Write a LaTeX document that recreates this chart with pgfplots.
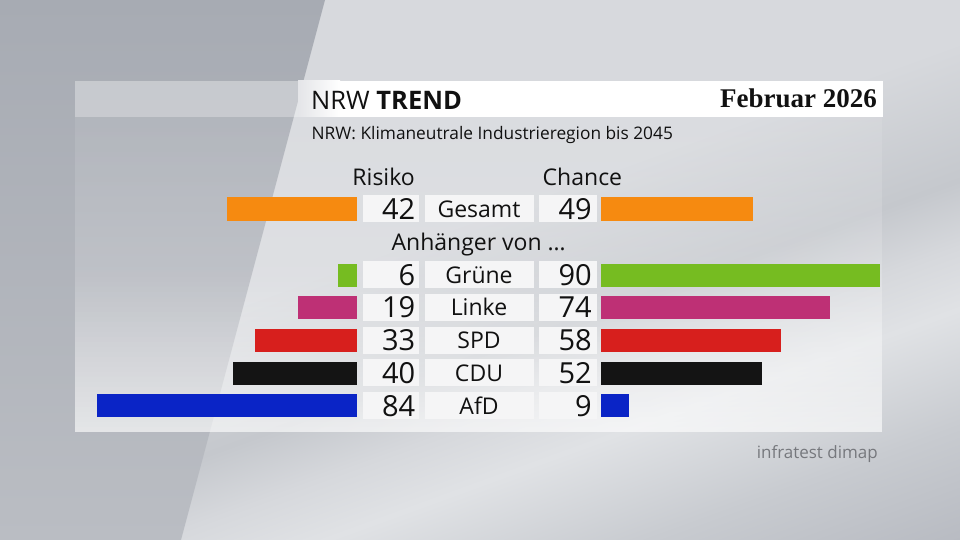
\documentclass[border=0pt]{standalone}
\usepackage{pgfplots}
\pgfplotsset{compat=1.18}
\usepackage{fontspec}
\setmainfont{Open Sans}
\newfontfamily\serifb{Liberation Serif}
\definecolor{orangeC}{HTML}{F68A10}
\definecolor{grueneC}{HTML}{76BC21}
\definecolor{linkeC}{HTML}{BE3075}
\definecolor{spdC}{HTML}{D71F1D}
\definecolor{cduC}{HTML}{141414}
\definecolor{afdC}{HTML}{0A24C6}
\definecolor{boxC}{HTML}{F5F5F6}
\definecolor{txtC}{HTML}{111111}
\definecolor{srcC}{HTML}{76787D}
\definecolor{bgLT}{HTML}{A7ABB3}
\definecolor{bgLB}{HTML}{BABDC3}
\definecolor{barMid}{HTML}{E4E5E8}
\definecolor{bA}{HTML}{B4B7BE}
\definecolor{bB}{HTML}{B8BBC2}
\definecolor{bC}{HTML}{C8CBD0}
\definecolor{bD}{HTML}{E0E2E5}
\definecolor{bE}{HTML}{D6D8DC}
\definecolor{bF}{HTML}{C5C8CD}
\definecolor{bG}{HTML}{D7D9DD}
\pgfdeclareverticalshading{bands}{100bp}{color(0bp)=(bA); color(25bp)=(bA); color(34.4bp)=(bB); color(38.4bp)=(bC); color(42.5bp)=(bD); color(44.7bp)=(bE); color(47bp)=(bF); color(51.9bp)=(bG); color(100bp)=(bG)}
\newcommand\fs[1]{\fontsize{#1}{#1}\selectfont}
\begin{document}
\begin{tikzpicture}
\begin{scope}[x=1pt,y=1pt]
\path[use as bounding box] (0,0) rectangle (960,540);
\begin{scope}
\clip (0,0) rectangle (960,540);
\shade[shading=bands, transform canvas={rotate around={20:(480pt,270pt)}}] (-300,-400) rectangle (1260,940);
\end{scope}
\shade[top color=bgLT, bottom color=bgLB] (0,540) -- (325,540) -- (181,0) -- (0,0) -- cycle;
\end{scope}
\begin{scope}[x=1pt,y=1pt,shift={(0,540)}, yscale=-1]
% panel: white veil, more opaque towards the bottom
\foreach \k in {0,...,62} {
  \pgfmathsetmacro\t{\k/62}
  \pgfmathsetmacro\op{\t<0.5 ? 0.09+0.18*\t : 0.18+0.9*(\t-0.5)}
  \fill[white, opacity=\op] (75,{117+5*\k}) rectangle (882,{122+5*\k});
}
% title bar
\fill[white, opacity=0.35] (75,81) rectangle (883,117);
\shade[left color=barMid, right color=white] (298,81) rectangle (340,117);
\fill[white] (340,81) rectangle (883,117);
% boxes
\foreach \c in {209, 275, 307.5, 340.3, 373, 405.8} {
  \fill[boxC] (362.5,\c-13.5) rectangle (419,\c+13.5);
  \fill[boxC] (424.5,\c-13.5) rectangle (533.5,\c+13.5);
  \fill[boxC] (538.5,\c-13.5) rectangle (596.5,\c+13.5);
}
% titles
\node[anchor=base west, inner sep=0, text=txtC] at (311,109.3) {\fs{25.5}NRW \textbf{TREND}};
\node[anchor=base west, inner sep=0, text=txtC] at (311.5,140) {\fs{17.3}NRW: Klimaneutrale Industrieregion bis 2045};
\node[anchor=base east, inner sep=0, text=txtC] at (877,107.7) {\serifb\bfseries\fs{27}Februar 2026};
\node[anchor=base east, inner sep=0, text=txtC] at (415,185.7) {\fs{23}Risiko};
\node[anchor=base west, inner sep=0, text=txtC] at (542.5,185.7) {\fs{23}Chance};
\node[anchor=base, inner sep=0, text=txtC] at (478.7,250.7) {\fs{23}Anhänger von …};
\node[anchor=base east, inner sep=0, text=srcC] at (878,459) {\fs{17}infratest dimap};
% row texts
\foreach \c/\vl/\vr/\nm in {209/42/49/Gesamt, 275/6/90/Grüne, 307.5/19/74/Linke, 340.3/33/58/SPD, 373/40/52/CDU, 405.8/84/9/AfD} {
  \node[anchor=base east, inner sep=0, text=txtC] at (415.5,\c+10.5) {\fs{29}\vl};
  \node[anchor=base east, inner sep=0, text=txtC] at (592,\c+10.5) {\fs{29}\vr};
  \node[anchor=base, inner sep=0, text=txtC] at (479,\c+8.5) {\fs{23}\nm};
}
\end{scope}
% Risiko bars
\begin{axis}[at={(357pt,0pt)}, anchor=south east, scale only axis, width=310pt, height=540pt,
  xmin=0, xmax=100, x dir=reverse, ymin=0, ymax=540, y dir=reverse, hide axis, enlargelimits=false]
\addplot[xbar, bar shift=0pt, bar width=24, fill=orangeC, draw=none] coordinates {(42,209.5)};
\addplot[xbar, bar shift=0pt, bar width=23, fill=grueneC, draw=none] coordinates {(6,275.5)};
\addplot[xbar, bar shift=0pt, bar width=23, fill=linkeC, draw=none] coordinates {(19,307.5)};
\addplot[xbar, bar shift=0pt, bar width=23, fill=spdC, draw=none] coordinates {(33,340.3)};
\addplot[xbar, bar shift=0pt, bar width=23, fill=cduC, draw=none] coordinates {(40,373.3)};
\addplot[xbar, bar shift=0pt, bar width=23, fill=afdC, draw=none] coordinates {(84,405.8)};
\end{axis}
% Chance bars
\begin{axis}[at={(601pt,0pt)}, anchor=south west, scale only axis, width=310pt, height=540pt,
  xmin=0, xmax=100, ymin=0, ymax=540, y dir=reverse, hide axis, enlargelimits=false]
\addplot[xbar, bar shift=0pt, bar width=24, fill=orangeC, draw=none] coordinates {(49,209.5)};
\addplot[xbar, bar shift=0pt, bar width=23, fill=grueneC, draw=none] coordinates {(90,275.5)};
\addplot[xbar, bar shift=0pt, bar width=23, fill=linkeC, draw=none] coordinates {(74,307.5)};
\addplot[xbar, bar shift=0pt, bar width=23, fill=spdC, draw=none] coordinates {(58,340.3)};
\addplot[xbar, bar shift=0pt, bar width=23, fill=cduC, draw=none] coordinates {(52,373.3)};
\addplot[xbar, bar shift=0pt, bar width=23, fill=afdC, draw=none] coordinates {(9,405.8)};
\end{axis}
\end{tikzpicture}
\end{document}
